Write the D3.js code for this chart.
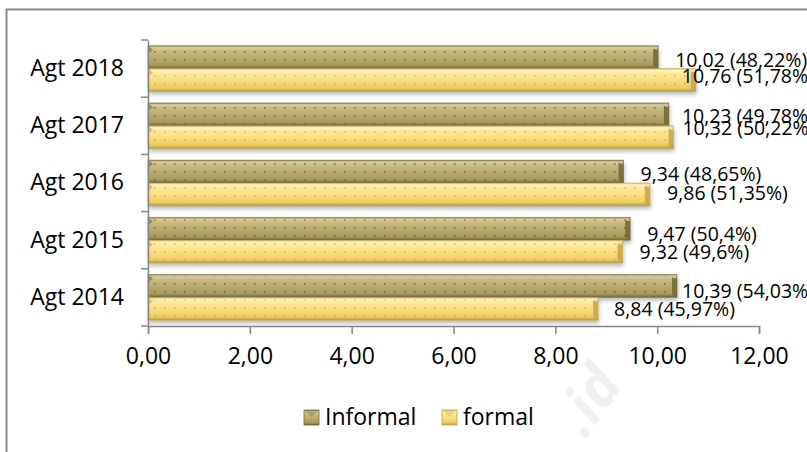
<!DOCTYPE html>
<html>
<head>
<meta charset="utf-8">
<script src="https://cdn.jsdelivr.net/npm/d3@7/dist/d3.min.js"></script>
<style>
  html, body { margin: 0; padding: 0; background: #fff; }
  svg { display: block; font-family: "Open Sans", "DejaVu Sans", sans-serif; }
</style>
</head>
<body>
<svg id="chart" width="807" height="452"></svg>
<script>
// Workers by sector (million), August surveys 2014–2018
const categories = ["Agt 2014", "Agt 2015", "Agt 2016", "Agt 2017", "Agt 2018"];
const informal = [10.39, 9.47, 9.34, 10.23, 10.02];
const formal = [8.84, 9.32, 9.86, 10.32, 10.76];
const informalPct = [54.03, 50.4, 48.65, 49.78, 48.22];
const formalPct = [45.97, 49.6, 51.35, 50.22, 51.78];
const xTicks = [0, 2, 4, 6, 8, 10, 12];
const seriesNames = ["Informal", "formal"];

// label nudges (px) from each bar end, per category
const informalLabelDx = [5, 17, 17, 13, 17];
const formalLabelDx = [16, 17, 17, 9, -14];
const informalLabelDy = [29, 29, 27, 26, 27];
const formalLabelDy = [47, 47, 46, 38, 43];

const locale = d3.formatLocale({ decimal: ",", thousands: ".", grouping: [3], currency: ["", ""] });
const fmtVal = locale.format(".2f");
const fmtPct = locale.format(".2~f");

const svg = d3.select("#chart");
const defs = svg.append("defs");

const x = d3.scaleLinear().domain([0, 12]).range([148, 759]);
const y = d3.scaleBand().domain(categories.slice().reverse()).range([40, 326]).paddingInner(0).paddingOuter(0);
const inner = d3.scaleBand().domain(seriesNames).range([0, y.bandwidth()]).paddingOuter(0.25).paddingInner(0);

// bevelled fills
function vGrad(id, stops) {
  const g = defs.append("linearGradient").attr("id", id).attr("x1", 0).attr("y1", 0).attr("x2", 0).attr("y2", 1);
  stops.forEach(([o, c]) => g.append("stop").attr("offset", o).attr("stop-color", c));
}
vGrad("gInf", [[0, "#8f8650"], [0.08, "#d8cf9c"], [0.2, "#c9bd83"], [0.55, "#b7aa6c"], [0.85, "#a69a5c"], [1, "#6f6838"]]);
vGrad("gFor", [[0, "#d6b95c"], [0.08, "#fff3c4"], [0.22, "#fde79a"], [0.55, "#f9dc7a"], [0.85, "#eccb63"], [1, "#b89a40"]]);

function dots(id, color, op) {
  const p = defs.append("pattern").attr("id", id).attr("patternUnits", "userSpaceOnUse")
    .attr("width", 10).attr("height", 8);
  p.append("rect").attr("x", 4).attr("y", 3).attr("width", 1.6).attr("height", 1.6)
    .attr("fill", color).attr("opacity", op);
}
dots("dInf", "#5e5830", 0.75);
dots("dFor", "#b79a4a", 0.55);

const shadow = defs.append("filter").attr("id", "shadow").attr("x", "-5%").attr("y", "-30%").attr("width", "110%").attr("height", "180%");
shadow.append("feDropShadow").attr("dx", 1).attr("dy", 3).attr("stdDeviation", 2)
  .attr("flood-color", "#000").attr("flood-opacity", 0.28);

// outer frame
svg.append("rect").attr("x", 6.5).attr("y", 9.5).attr("width", 820).attr("height", 460)
  .attr("fill", "none").attr("stroke", "#8c8c8c").attr("stroke-width", 2);

// watermark
svg.append("text").attr("x", 0).attr("y", 0)
  .attr("transform", "translate(585,440) rotate(-55)")
  .attr("font-size", 58).attr("font-weight", "bold").attr("font-style", "italic")
  .attr("fill", "#f0f0f0").text(".id");

function drawBars(vals, name, grad, dotId, darkEdge, lightEdge) {
  const g = svg.append("g");
  categories.forEach((c, i) => {
    const x0 = x(0), x1 = x(vals[i]);
    const yy = y(c) + inner(name);
    const h = inner.bandwidth();
    const b = g.append("g");
    b.append("rect").attr("x", x0).attr("y", yy).attr("width", x1 - x0).attr("height", h)
      .attr("fill", `url(#${grad})`).attr("filter", "url(#shadow)");
    b.append("rect").attr("x", x0).attr("y", yy + 2).attr("width", x1 - x0 - 4).attr("height", h - 4)
      .attr("fill", `url(#${dotId})`);
    // right bevel
    const e = 5;
    b.append("polygon").attr("points", `${x1 - e},${yy + 3} ${x1},${yy} ${x1},${yy + h} ${x1 - e},${yy + h - 3}`)
      .attr("fill", darkEdge).attr("opacity", 0.85);
    b.append("polygon").attr("points", `${x1 - e},${yy + 3} ${x1},${yy} ${x1 - 1},${yy + 4}`)
      .attr("fill", lightEdge).attr("opacity", 0.8);
    // left bevel
    b.append("polygon").attr("points", `${x0},${yy} ${x0 + 5},${yy + 4} ${x0},${yy + 8}`)
      .attr("fill", darkEdge).attr("opacity", 0.6);
    b.append("rect").attr("x", x0).attr("y", yy).attr("width", x1 - x0).attr("height", h)
      .attr("fill", "none").attr("stroke", darkEdge).attr("stroke-width", 0.8).attr("stroke-opacity", 0.6);
  });
}
drawBars(informal, "Informal", "gInf", "dInf", "#6e6636", "#e6dfb0");
drawBars(formal, "formal", "gFor", "dFor", "#c7a446", "#fff6d0");

// axes
const axisColor = "#868686";
const xAxis = svg.append("g").attr("transform", `translate(0,326)`)
  .call(d3.axisBottom(x).tickValues(xTicks).tickSize(8).tickPadding(14).tickFormat(d => fmtVal(d)));
xAxis.select(".domain").attr("stroke", axisColor).attr("stroke-width", 1.5);
xAxis.selectAll(".tick line").attr("stroke", axisColor).attr("stroke-width", 1.5);
xAxis.selectAll("text").attr("font-size", 23).attr("fill", "#000").attr("font-family", "Open Sans");

const yAxis = svg.append("g").attr("transform", `translate(148,0)`)
  .call(d3.axisLeft(y).tickSize(0).tickPadding(24));
yAxis.select(".domain").attr("stroke", axisColor).attr("stroke-width", 1.5);
yAxis.selectAll("text").attr("font-size", 23).attr("fill", "#000").attr("font-family", "Open Sans");
// category boundary ticks
const bounds = categories.map(c => y(c)).concat([y.range()[1]]);
yAxis.selectAll(".bound").data(bounds).join("line").attr("class", "bound")
  .attr("x1", -7).attr("x2", 0).attr("y1", d => d).attr("y2", d => d)
  .attr("stroke", axisColor).attr("stroke-width", 1.5);

// value labels
const labels = svg.append("g").attr("font-size", 19.5).attr("fill", "#000");
categories.forEach((c, i) => {
  labels.append("text").attr("x", x(informal[i]) + informalLabelDx[i]).attr("y", y(c) + informalLabelDy[i])
    .text(`${fmtVal(informal[i])} (${fmtPct(informalPct[i])}%)`);
  labels.append("text").attr("x", x(formal[i]) + formalLabelDx[i]).attr("y", y(c) + formalLabelDy[i])
    .text(`${fmtVal(formal[i])} (${fmtPct(formalPct[i])}%)`);
});

// legend
const legend = svg.append("g").attr("font-size", 23);
const legendItems = [
  { name: "Informal", x: 304, grad: "gInf", edge: "#6e6636" },
  { name: "formal", x: 442, grad: "gFor", edge: "#c7a446" }
];
legendItems.forEach(it => {
  const g = legend.append("g").attr("transform", `translate(${it.x},410)`);
  g.append("rect").attr("width", 15).attr("height", 15).attr("fill", `url(#${it.grad})`)
    .attr("stroke", it.edge).attr("stroke-width", 0.8);
  g.append("polygon").attr("points", "0,0 15,0 7.5,7").attr("fill", it.edge).attr("opacity", 0.35);
  g.append("text").attr("x", 21).attr("y", 15).attr("fill", "#000").text(it.name);
});
</script>
</body>
</html>
